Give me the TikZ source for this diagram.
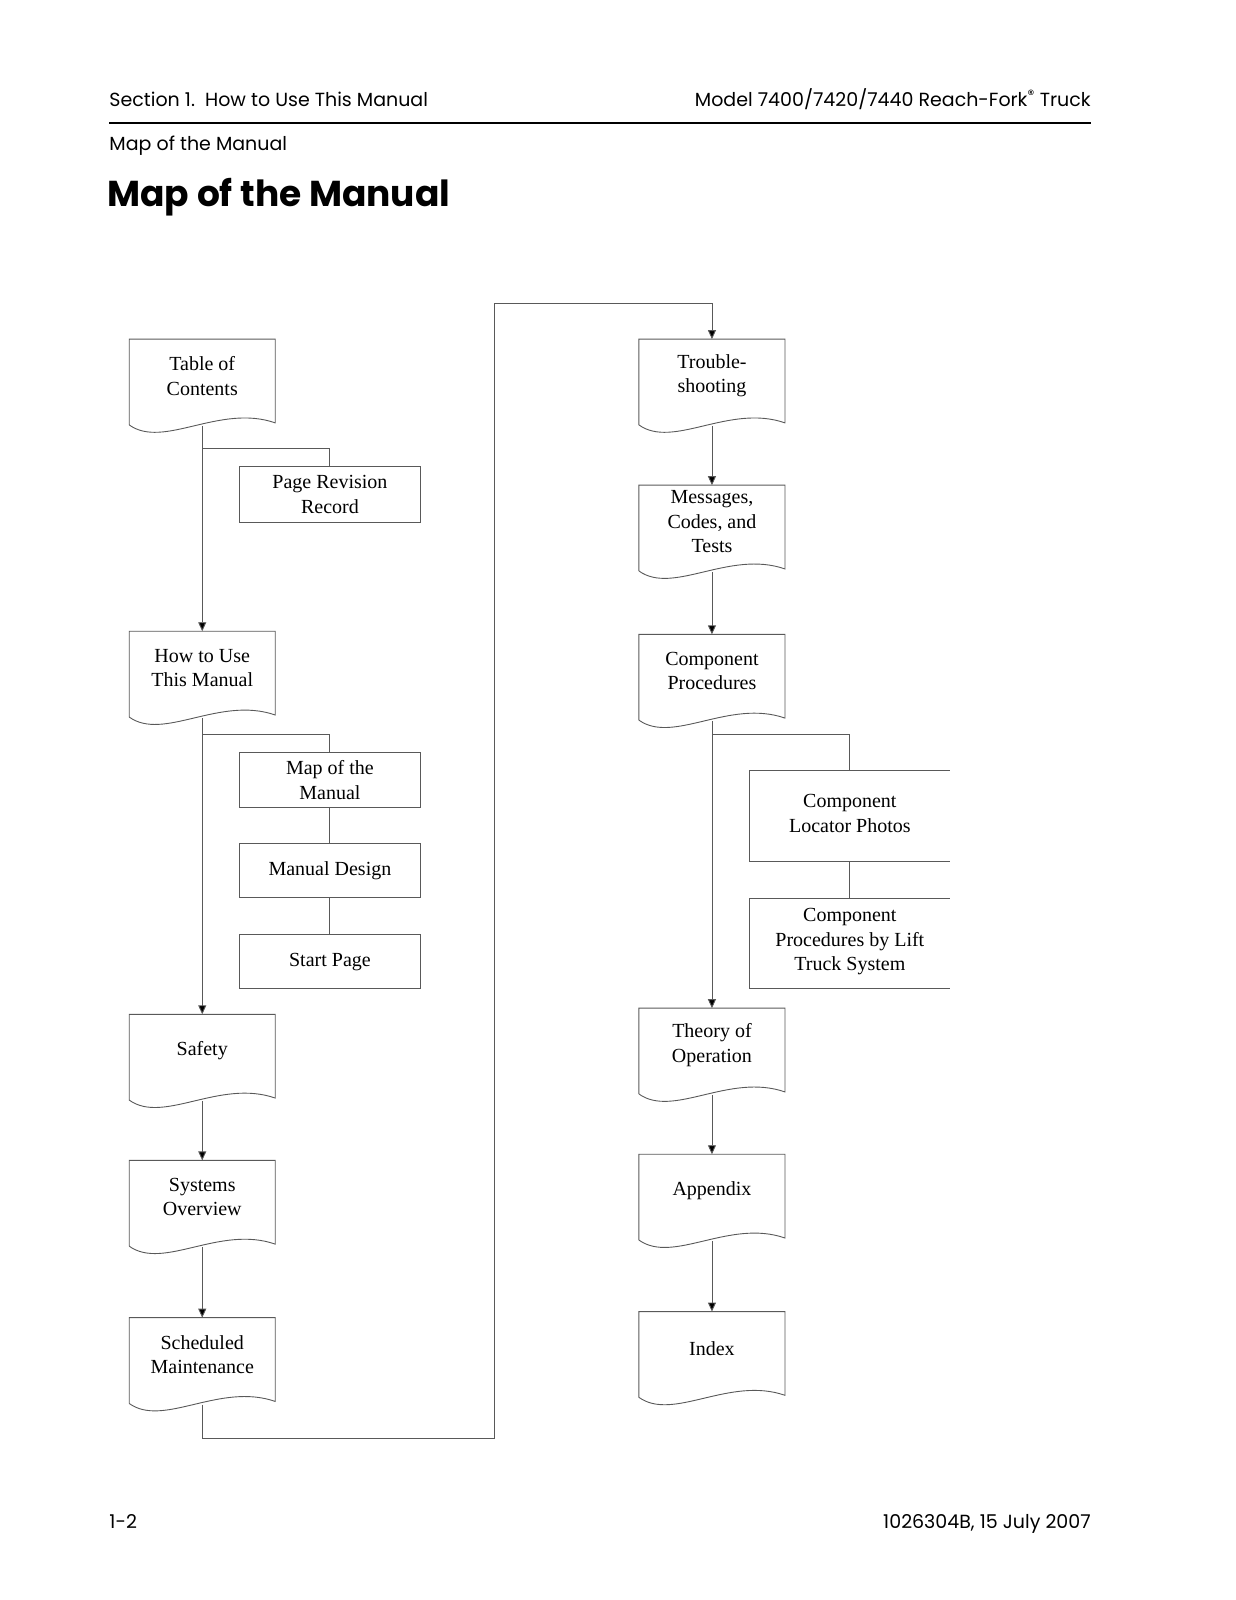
\documentclass[tikz,border=0pt]{standalone}
\usepackage{fontspec}
\setmainfont{Liberation Serif}
\newfontfamily\hdr{Poppins}
\usetikzlibrary{arrows.meta}
\tikzset{
  box/.style={draw=black!65, line width=0.9pt},
  con/.style={draw=black!65, line width=0.9pt},
  arr/.style={con, -{Triangle[length=9pt,width=8pt,fill=black]}},
  txt/.style={align=center, font=\fontsize{20}{24.5}\selectfont, inner sep=0pt},
  hd/.style={font=\hdr\fontsize{19}{22}\selectfont, inner sep=0pt},
}
% #1 name, #2 cx, #3 top, #4 bottom (left corner), #5 text
\newcommand\docnode[5]{%
  \draw[box] ({#2-71.5},{#4}) -- ({#2-71.5},{#3}) -- ({#2+71.5},{#3}) -- ({#2+71.5},{#4-2})
    .. controls ({#2+17},{#4-21}) and ({#2-38},{#4+24}) .. ({#2-71.5},{#4});
  \node[txt] (#1) at (#2,{(#3+#4)/2-6}) {#5};
  \coordinate (#1t) at (#2,#3);
  \coordinate (#1b) at (#2,{#4+1});
}
% rect: #1 name, #2 cx, #3 top, #4 bottom, #5 text
\newcommand\rectnode[5]{%
  \draw[box] ({#2-89},{#3}) rectangle ({#2+89},{#4});
  \node[txt] (#1) at (#2,{(#3+#4)/2}) {#5};
  \coordinate (#1t) at (#2,#3);
  \coordinate (#1b) at (#2,#4);
}
% open rect (no right side): #1 name, #2 left, #3 right, #4 top, #5 bottom, #6 text
\newcommand\opennode[6]{%
  \draw[box] ({#3},{#4}) -- ({#2},{#4}) -- ({#2},{#5}) -- ({#3},{#5});
  \node[txt] (#1) at ({(#2+#3)/2},{(#4+#5)/2-2}) {#6};
  \coordinate (#1t) at ({(#2+#3)/2},#4);
  \coordinate (#1b) at ({(#2+#3)/2},#5);
}
\begin{document}
\begin{tikzpicture}[x=1.0215pt,y=-1.0215pt]
\useasboundingbox (0,0) rectangle (1210,1566.4);
% header
\node[hd, anchor=base west] (h1) at (107,104) {Section 1.\ \ How to Use This Manual};
\node[hd, anchor=base east] (h2) at (1068,104) {Model 7400/7420/7440 Reach-Fork\textsuperscript{\textregistered} Truck};
\coordinate (r1) at (107,120); \coordinate (r2) at (1068,120);
\draw[line width=2pt] (r1) -- (r2);
\node[hd, anchor=base west] (h3) at (107,147) {Map of the Manual};
\node[anchor=base west, inner sep=0pt, font=\hdr\bfseries\fontsize{36}{40}\selectfont] (title) at (105,202) {Map of the Manual};
\node[hd, anchor=base west] (f1) at (107,1496) {1-2};
\node[hd, anchor=base east] (f2) at (1068,1496) {1026304B, 15 July 2007};

% left column
\docnode{toc}{198}{332}{416}{Table of\\Contents}
\rectnode{prr}{323}{457}{511}{Page Revision\\Record}
\docnode{how}{198}{618}{702}{How to Use\\This Manual}
\rectnode{map}{323}{737}{790}{Map of the\\Manual}
\rectnode{md}{323}{826}{879}{Manual Design}
\rectnode{sp}{323}{915}{968}{Start Page}
\docnode{saf}{198}{993}{1077}{Safety}
\docnode{sys}{198}{1136}{1220}{Systems\\Overview}
\docnode{sch}{198}{1290}{1374}{Scheduled\\Maintenance}
% right column
\docnode{tro}{697}{332}{416}{Trouble-\\shooting}
\docnode{msg}{697}{475}{559}{Messages,\\Codes, and\\Tests}
\docnode{cp}{697}{621}{705}{Component\\Procedures}
\opennode{clp}{734}{930}{754}{843}{Component\\Locator Photos}
\opennode{cpl}{734}{930}{880}{968}{Component\\Procedures by Lift\\Truck System}
\docnode{tho}{697}{987}{1071}{Theory of\\Operation}
\docnode{app}{697}{1130}{1214}{Appendix}
\docnode{idx}{697}{1284}{1368}{Index}

% connectors
\draw[arr] (tocb) -- (howt);
\draw[con] (198,439) -| (prrt);
\draw[arr] (howb) -- (saft);
\draw[con] (198,719) -| (mapt);
\draw[con] (mapb) -- (mdt);
\draw[con] (mdb) -- (spt);
\draw[arr] (safb) -- (syst);
\draw[arr] (sysb) -- (scht);
\coordinate (c1) at (198,1408);
\coordinate (c2) at (484,1408);
\coordinate (c3) at (484,297);
\coordinate (c4) at (697,297);
\draw[con] (schb) -- (c1) -- (c2) -- (c3) -- (c4);
\draw[arr] (c4) -- (trot);
\draw[arr] (trob) -- (msgt);
\draw[arr] (msgb) -- (cpt);
\draw[arr] (cpb) -- (thot);
\draw[con] (697,719) -| (clpt);
\draw[con] (clpb) -- (cplt);
\draw[arr] (thob) -- (appt);
\draw[arr] (appb) -- (idxt);
\end{tikzpicture}
\end{document}
